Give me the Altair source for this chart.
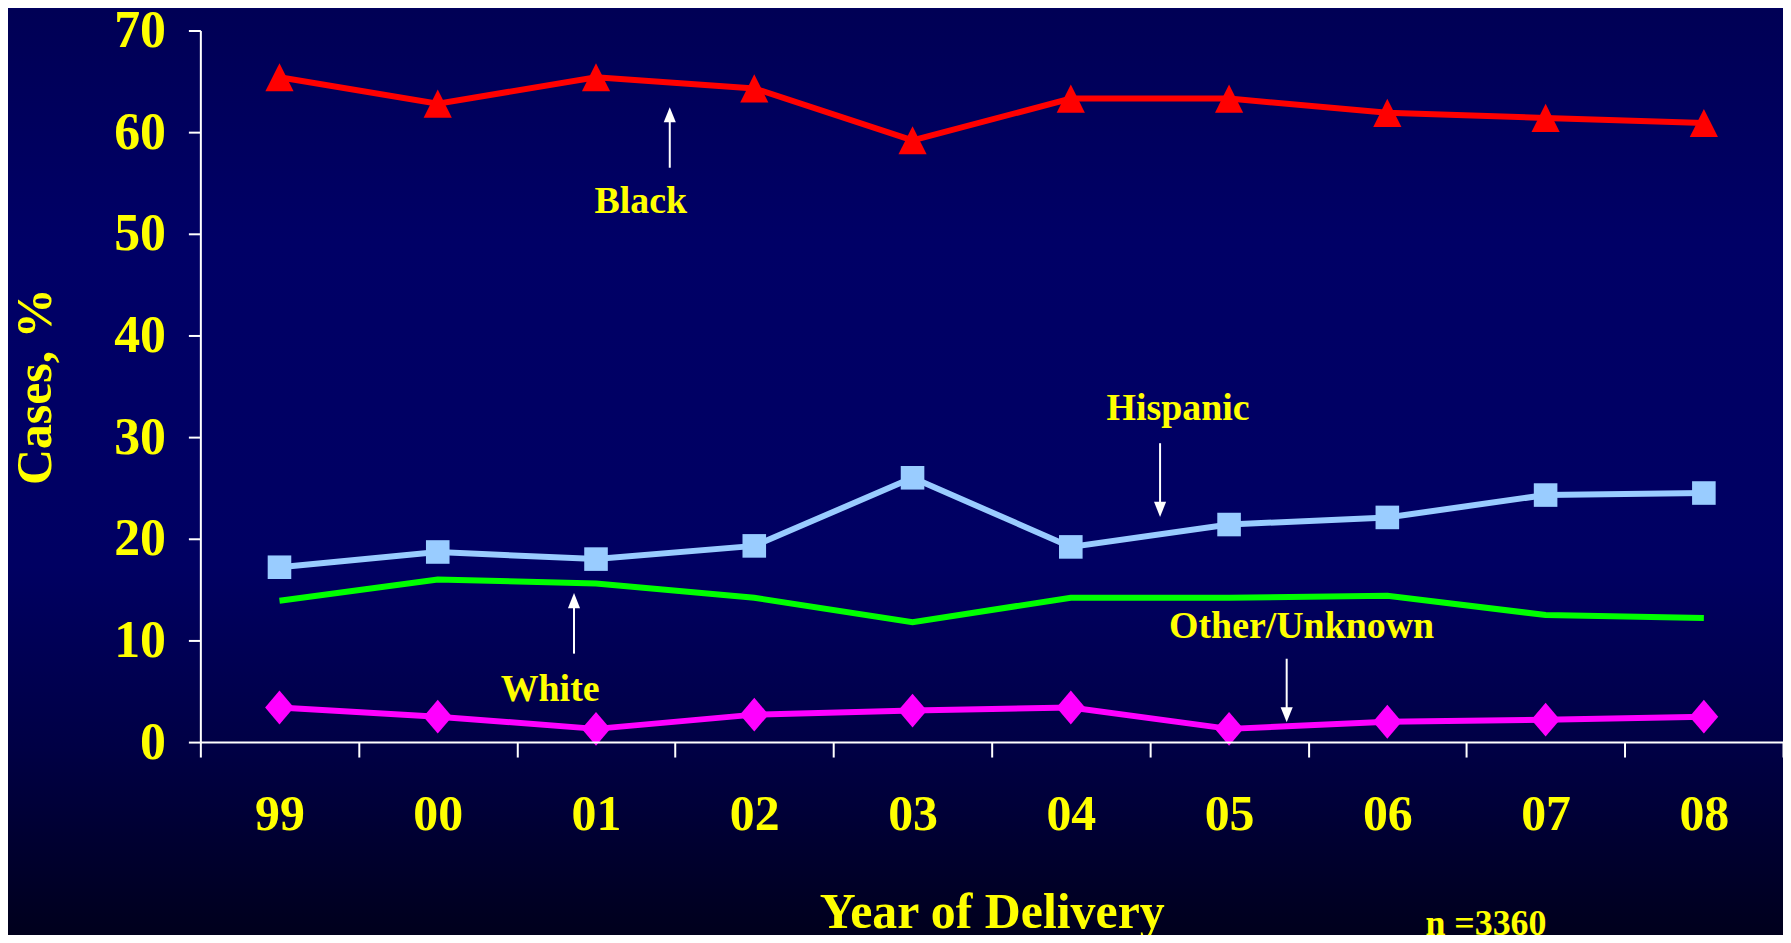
import altair as alt
import pandas as pd

years = ["99", "00", "01", "02", "03", "04", "05", "06", "07", "08"]
series_names = ["Black", "Hispanic", "White", "Other/Unknown"]
black = [65.4, 62.8, 65.4, 64.3, 59.2, 63.3, 63.3, 61.9, 61.4, 60.9]
hispanic = [17.2, 18.7, 18.0, 19.3, 26.0, 19.2, 21.4, 22.1, 24.3, 24.5]
white = [13.9, 16.0, 15.6, 14.2, 11.8, 14.2, 14.2, 14.4, 12.5, 12.2]
other = [3.4, 2.5, 1.3, 2.7, 3.1, 3.4, 1.3, 2.0, 2.2, 2.5]
series_colors = ["#FF0000", "#99CCFF", "#00FF00", "#FF00FF"]
y_ticks = [0, 10, 20, 30, 40, 50, 60, 70]

# annotation labels (x in year-band units, y in %)
ann_text = ["Black", "Hispanic", "White", "Other/Unknown"]
ann_x = [2.783, 6.178, 2.210, 6.958]
ann_y = [53.1, 32.8, 5.1, 11.3]

# arrows (x in year-band units, tail and tip in %)
arrow_x = [2.966, 6.064, 2.361, 6.864]
arrow_tail = [56.5, 29.4, 8.7, 8.2]
arrow_tip = [62.4, 22.2, 14.6, 2.0]

note_text = ["n =3360"]
note_x = [8.123]
note_y = [-19.0]

FONT = "Liberation Serif"
YELLOW = "#FFFF00"
YTITLE = "Cases, %"

rows = []
for name, vals in zip(series_names, [black, hispanic, white, other]):
    for yr, v in zip(years, vals):
        rows.append({"year": yr, "series": name, "value": v})
df = pd.DataFrame(rows)

W, H = 1588, 714

xenc = alt.X(
    "year:O", sort=years,
    scale=alt.Scale(type="band", paddingInner=0, paddingOuter=0),
    bandPosition=0.5,
    axis=alt.Axis(title="Year of Delivery", tickBand="extent", labelAngle=0, zindex=2,
                  labelFontSize=50, labelPadding=73, labelBaseline="alphabetic",
                  tickSize=15, titleFontSize=50, titleY=186, titleBaseline="alphabetic"),
)
yenc = alt.Y(
    "value:Q",
    scale=alt.Scale(domain=[0, 70], nice=False, zero=True),
    axis=alt.Axis(title=YTITLE, values=y_ticks, labelFontSize=52, tickSize=12, zindex=2,
                  labelPadding=23, titleFontSize=50, titleAngle=270, titleX=-165,
                  titleY=H / 2, titleAlign="center", titleBaseline="middle"),
)
color = alt.Color("series:N", scale=alt.Scale(domain=series_names, range=series_colors), legend=None)

bg = alt.Chart(pd.DataFrame({"a": [0]})).mark_rect(
    color=alt.LinearGradient(
        gradient="linear", x1=0, x2=0, y1=0, y2=1,
        stops=[alt.GradientStop(color="#000055", offset=0),
               alt.GradientStop(color="#000066", offset=0.25),
               alt.GradientStop(color="#000062", offset=0.6),
               alt.GradientStop(color="#000044", offset=0.8),
               alt.GradientStop(color="#00001c", offset=1)]
    )
).encode(x=alt.value(-193), x2=alt.value(W), y=alt.value(-21), y2=alt.value(910))

lines = alt.Chart(df).mark_line(strokeWidth=6).encode(x=xenc, y=yenc, color=color)

tri = "M0,-1L1,1L-1,1Z"
dia = "M0,-1L0.85,0L0,1L-0.85,0Z"
marker_specs = [("Black", tri, 800), ("Hispanic", "square", 560), ("Other/Unknown", dia, 1150)]
point_layers = []
for name, shp, sz in marker_specs:
    point_layers.append(
        alt.Chart(df).transform_filter(alt.datum.series == name).mark_point(
            filled=True, opacity=1, shape=shp, size=sz,
            color=series_colors[series_names.index(name)]
        ).encode(x=xenc, y=yenc)
    )
main = alt.layer(lines, *point_layers)

ann_df = pd.DataFrame({"t": ann_text, "ax": ann_x, "value": ann_y})
ax_scale = alt.Scale(domain=[0, 10])
labels = alt.Chart(ann_df).mark_text(
    font=FONT, fontWeight="bold", fontSize=38, color=YELLOW, align="center", baseline="middle"
).encode(x=alt.X("ax:Q", scale=ax_scale, axis=None), y=alt.Y("value:Q", title=YTITLE), text="t:N")

arr_rows = []
for x, t, p in zip(arrow_x, arrow_tail, arrow_tip):
    up = p > t
    arr_rows.append({"ax": x, "value": t, "head": p - 0.69 if up else p + 0.69,
                     "shp": "M0,-1L0.8,1L-0.8,1Z" if up else "M0,1L0.8,-1L-0.8,-1Z"})
arr_df = pd.DataFrame(arr_rows)
shafts = alt.Chart(arr_df).mark_rule(color="white", strokeWidth=2).encode(
    x=alt.X("ax:Q", scale=ax_scale, axis=None), y=alt.Y("value:Q", title=YTITLE), y2="head:Q")
heads = alt.Chart(arr_df).mark_point(filled=True, opacity=1, color="white", size=230).encode(
    x=alt.X("ax:Q", scale=ax_scale, axis=None), y=alt.Y("head:Q", title=YTITLE),
    shape=alt.Shape("shp:N", scale=None))

note = alt.Chart(pd.DataFrame({"t": note_text, "ax": note_x, "value": note_y})).mark_text(
    font=FONT, fontWeight="bold", fontSize=36, color=YELLOW, align="center", baseline="alphabetic"
).encode(x=alt.X("ax:Q", scale=ax_scale, axis=None), y=alt.Y("value:Q", title=YTITLE), text="t:N")

ann = alt.layer(labels, shafts, heads, note)

chart = alt.layer(bg, main, ann).resolve_scale(
    x="independent"
).properties(
    width=W, height=H,
    autosize=alt.AutoSizeParams(type="none"),
    padding={"left": 193, "top": 21, "right": 0, "bottom": 192},
).configure(background="#000060").configure_view(stroke=None).configure_axis(
    grid=False, domainColor="white", domainWidth=2, tickColor="white", tickWidth=2,
    labelColor=YELLOW, labelFont=FONT, labelFontWeight="bold",
    titleColor=YELLOW, titleFont=FONT, titleFontWeight="bold", zindex=2,
)

chart.save("out.html", embed_options={"renderer": "svg", "actions": False})
